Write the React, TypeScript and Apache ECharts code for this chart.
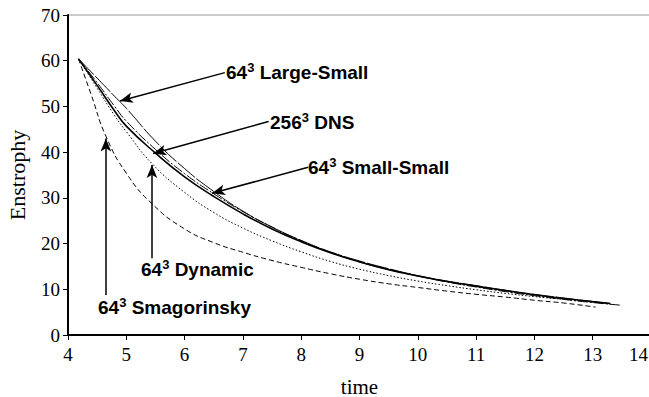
import React, { useEffect, useRef } from "react";
import * as echarts from "echarts";

// time samples and enstrophy values
const dnsT = [4.18, 4.5, 4.8, 5.0, 5.5, 6.0, 6.5, 7.0, 7.5, 8.0, 8.5, 9.0, 9.5, 10.0, 10.5, 11.0, 11.5, 12.0, 12.5, 13.0, 13.3];
const dnsY = [60.4, 54.6, 49.0, 45.7, 39.8, 34.6, 30.3, 26.5, 23.2, 20.4, 18.0, 16.0, 14.3, 12.9, 11.7, 10.7, 9.7, 8.8, 8.0, 7.3, 6.9];

const lsT = [4.18, 4.5, 4.8, 5.0, 5.5, 6.0, 6.5, 7.0, 7.5, 8.0, 8.5, 9.0, 9.5, 10.0, 10.5, 11.0, 11.5, 12.0, 12.5, 13.0, 13.3];
const lsY = [60.4, 56.2, 52.2, 49.6, 42.4, 36.4, 31.4, 27.1, 23.6, 20.7, 18.2, 16.2, 14.5, 13.0, 11.8, 10.8, 9.8, 8.9, 8.1, 7.3, 6.9];

const ssT = [4.18, 4.5, 4.8, 5.0, 5.5, 6.0, 6.5, 7.0, 7.5, 8.0, 8.5, 9.0, 9.5, 10.0, 10.5, 11.0, 11.5, 12.0, 12.5, 13.0, 13.5];
const ssY = [60.4, 55.2, 50.0, 46.8, 40.6, 35.3, 30.9, 27.0, 23.6, 20.6, 18.1, 16.0, 14.3, 12.9, 11.6, 10.5, 9.5, 8.6, 7.8, 7.1, 6.5];

const dynT = [4.18, 4.5, 4.8, 5.0, 5.44, 6.0, 6.5, 7.0, 7.5, 8.0, 8.5, 9.0, 9.5, 10.0, 10.5, 11.0, 11.5, 12.0, 12.5, 13.0, 13.3];
const dynY = [60.4, 54.0, 48.0, 44.5, 37.5, 31.2, 26.8, 23.4, 20.6, 18.2, 16.1, 14.4, 13.0, 11.8, 10.8, 9.9, 9.1, 8.4, 7.8, 7.2, 6.8];

const smT = [4.18, 4.4, 4.65, 5.0, 5.45, 6.0, 6.5, 7.0, 7.5, 8.0, 8.5, 9.0, 9.5, 10.0, 10.5, 11.0, 11.5, 12.0, 12.5, 13.05];
const smY = [60.4, 52.5, 43.5, 35.4, 28.6, 23.2, 20.2, 18.1, 16.3, 14.8, 13.4, 12.2, 11.2, 10.4, 9.6, 8.9, 8.3, 7.6, 7.0, 6.1];

// axis
const xMin = 4, xMax = 14, xStep = 1;
const yMin = 0, yMax = 70, yStep = 10;
const xName = "time";
const yName = "Enstrophy";

// annotations: label base, label name, arrow from (t,y), arrow to (t,y)
const annoBase = ["64", "256", "64", "64", "64"];
const annoName = [" Large-Small", " DNS", " Small-Small", " Dynamic", " Smagorinsky"];
const arrowFrom = [[6.69, 57.4], [7.44, 46.7], [8.12, 36.7], [5.44, 16.8], [4.65, 8.75]];
const arrowTo = [[4.89, 51.2], [5.46, 39.7], [6.47, 31.0], [5.44, 37.2], [4.65, 43.0]];
const labelPos = [[226, 72], [270, 122], [308, 167], [141, 269], [98, 307]];

const zip = (t: number[], y: number[]) => t.map((v, i) => [v, y[i]]);

export default function App() {
  const ref = useRef<HTMLDivElement>(null);
  useEffect(() => {
    if (!ref.current) return;
    const chart = echarts.init(ref.current, null, { renderer: "svg" });
    const serif = "Liberation Serif";
    const sans = "Liberation Sans";
    const base = { type: "line", showSymbol: false, smooth: 0.5, silent: true };
    const option: any = {
      animation: false,
      backgroundColor: "#fff",
      textStyle: { fontFamily: serif },
      grid: {
        left: 68, right: -2, top: 15, bottom: 62,
        show: true, borderColor: "#999", borderWidth: 1,
        containLabel: false, outerBoundsMode: "none",
      },
      xAxis: {
        type: "value", min: xMin, max: xMax, interval: xStep,
        name: xName, nameLocation: "middle", nameGap: 41,
        nameTextStyle: { fontFamily: serif, fontSize: 21, color: "#000" },
        axisLine: { onZero: false, lineStyle: { color: "#000", width: 2 } },
        axisTick: { length: 5, lineStyle: { color: "#000", width: 1 } },
        axisLabel: {
          fontFamily: serif, fontSize: 19, color: "#000", margin: 10, alignMaxLabel: "right",
          formatter: (v: number) => (v === xMax ? `{r|${v}}` : `${v}`),
          rich: { r: { fontFamily: serif, fontSize: 19, color: "#000", padding: [0, 3, 0, 0] } },
        },
        splitLine: { show: false },
      },
      yAxis: {
        type: "value", min: yMin, max: yMax, interval: yStep,
        name: yName, nameLocation: "middle", nameGap: 40, nameRotate: 90,
        nameTextStyle: { fontFamily: serif, fontSize: 22, color: "#000" },
        axisLine: { show: true, lineStyle: { color: "#000", width: 2 } },
        axisTick: { show: true, length: 5, lineStyle: { color: "#000", width: 1 } },
        axisLabel: { fontFamily: serif, fontSize: 19, color: "#000", margin: 8 },
        splitLine: { show: false },
      },
      series: [
        {
          ...base, name: "64³ Large-Small", data: zip(lsT, lsY),
          lineStyle: { color: "#000", width: 1, type: [22, 2] },
        },
        {
          ...base, name: "64³ Small-Small", data: zip(ssT, ssY),
          lineStyle: { color: "#000", width: 1, type: [10, 2, 2, 2] },
        },
        {
          ...base, name: "64³ Dynamic", data: zip(dynT, dynY),
          lineStyle: { color: "#000", width: 1, type: [1.5, 2] },
        },
        {
          ...base, name: "64³ Smagorinsky", data: zip(smT, smY),
          lineStyle: { color: "#000", width: 1, type: [5, 3] },
        },
        {
          ...base, name: "256³ DNS", data: zip(dnsT, dnsY),
          lineStyle: { color: "#000", width: 1.6, type: "solid" },
          markLine: {
            silent: true, animation: false,
            symbol: ["none", "arrow"], symbolSize: [8, 13],
            label: { show: false },
            lineStyle: { color: "#000", width: 1.5, type: "solid" },
            data: arrowFrom.map((f, i) => [{ coord: f }, { coord: arrowTo[i] }]),
          },
        },
      ],
      graphic: annoBase.map((b, i) => ({
        type: "text",
        x: labelPos[i][0],
        y: labelPos[i][1],
        silent: true,
        style: {
          text: `{n|${b}}{s|3}{n|${annoName[i]}}`,
          align: "left",
          verticalAlign: "middle",
          rich: {
            n: { fontFamily: sans, fontWeight: "bold", fontSize: 19, fill: "#000", color: "#000", lineHeight: 22 },
            s: { fontFamily: sans, fontWeight: "bold", fontSize: 13, fill: "#000", color: "#000", verticalAlign: "top", lineHeight: 22 },
          },
        },
      })),
    };
    chart.setOption(option);
    return () => chart.dispose();
  }, []);
  return (
    <div
      ref={ref}
      style={{ position: "absolute", left: 0, top: 0, width: 649, height: 397 }}
    />
  );
}
